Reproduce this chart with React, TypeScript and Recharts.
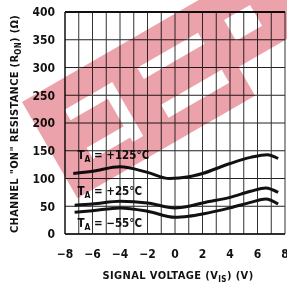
import { LineChart, Line, XAxis, YAxis, CartesianGrid, ReferenceDot, ReferenceLine, Label } from "recharts";

// signal voltage (V) vs channel on-resistance (ohm)
const curve125 = [
  { v: -7.4, r: 109 }, { v: -6, r: 113 }, { v: -4, r: 121 }, { v: -2, r: 111 },
  { v: -0.4, r: 100 }, { v: 1, r: 103 }, { v: 2, r: 109 }, { v: 4, r: 127 },
  { v: 5.5, r: 138 }, { v: 6.7, r: 143 }, { v: 7.5, r: 136 },
];
const curve25 = [
  { v: -7.3, r: 52 }, { v: -6, r: 54 }, { v: -4, r: 59 }, { v: -2, r: 56 },
  { v: 0, r: 47 }, { v: 1, r: 50 }, { v: 2, r: 56 }, { v: 4, r: 66 },
  { v: 5.5, r: 77 }, { v: 6.6, r: 83 }, { v: 7.5, r: 75 },
];
const curveM55 = [
  { v: -7.3, r: 39 }, { v: -6, r: 42 }, { v: -4, r: 47 }, { v: -2, r: 41 },
  { v: 0, r: 30 }, { v: 1, r: 32 }, { v: 2, r: 36 }, { v: 4, r: 47 },
  { v: 5.5, r: 57 }, { v: 6.6, r: 63 }, { v: 7.5, r: 54 },
];

const curves = [curve125, curve25, curveM55];

const xTicks = [-8, -6, -4, -2, 0, 2, 4, 6, 8];
const xGrid = [-7, -6, -5, -4, -3, -2, -1, 0, 1, 2, 3, 4, 5, 6, 7, 8];
const yTicks = [0, 50, 100, 150, 200, 250, 300, 350, 400];

// temperature labels: text, left x (V), baseline y (ohm)
const tempLabels = [
  { temp: "= +125°C", v: -7.1, r: 136 },
  { temp: "= +25°C", v: -7.1, r: 70 },
  { temp: "= \u221255°C", v: -7.1, r: 12 },
];

const FONT = "'DejaVu Sans Condensed', 'Liberation Sans', sans-serif";
const INK = "#111";

const TempLabel = (props: any) => {
  const { viewBox, temp } = props;
  return (
    <text x={viewBox.x} y={viewBox.y} fontFamily={FONT} fontWeight="bold" fontSize={11.5} fill={INK}>
      <tspan>T</tspan>
      <tspan fontSize={8.5} dy={3}>A</tspan>
      <tspan dy={-3}> {temp}</tspan>
    </text>
  );
};

const XTitle = (props: any) => {
  const { viewBox } = props;
  const cx = viewBox.x + viewBox.width / 2 + 3;
  return (
    <text x={cx} y={279} textAnchor="middle" fontFamily={FONT} fontWeight="bold" fontSize={11} fill={INK} letterSpacing={0.4}>
      <tspan>SIGNAL VOLTAGE (V</tspan>
      <tspan fontSize={8} dy={3}>IS</tspan>
      <tspan dy={-3}>) (V)</tspan>
    </text>
  );
};

const YTitle = (props: any) => {
  const { viewBox } = props;
  const cy = viewBox.y + viewBox.height / 2 + 1;
  return (
    <text x={0} y={0} transform={`translate(18,${cy}) rotate(-90)`} textAnchor="middle" fontFamily={FONT} fontWeight="bold" fontSize={11} fill={INK} letterSpacing={0.3}>
      <tspan>CHANNEL "ON" RESISTANCE (R</tspan>
      <tspan fontSize={8} dy={3}>ON</tspan>
      <tspan dy={-3}>) (Ω)</tspan>
    </text>
  );
};

const Watermark = () => {
  // diagonal pink logo band, multiplied over the chart
  const cutouts = [
    { u: 33, v: 28, w: 55, h: 12 },
    { u: 76, v: 28, w: 12, h: 62 },
    { u: 33, v: 72, w: 52, h: 13 },
    { u: 117, v: 28, w: 70, h: 13 },
    { u: 119, v: 72, w: 70, h: 15 },
    { u: 216, v: 30, w: 30, h: 24 },
    { u: 205, v: 78, w: 60, h: 40 },
  ];
  return (
    <svg
      width={287}
      height={285}
      style={{ position: "absolute", left: 0, top: 0, pointerEvents: "none", mixBlendMode: "multiply" }}
    >
      <g transform="translate(22,102) rotate(-30)">
        <rect x={0} y={0} width={420} height={111} fill="#eca2aa" />
        {cutouts.map((b, i) => (
          <rect key={i} x={b.u} y={b.v} width={b.w} height={b.h} fill="#fff" />
        ))}
      </g>
    </svg>
  );
};

export default function App() {
  return (
    <div style={{ position: "absolute", left: 0, top: 0, width: 287, height: 285, background: "#fff" }}>
      <LineChart width={287} height={285} margin={{ top: 12, right: 2, left: 0, bottom: 0 }}>
        <CartesianGrid stroke="#222" strokeWidth={1} vertical={false} />
        {xGrid.map((x) => (
          <ReferenceLine key={x} x={x} stroke="#333" strokeWidth={1} />
        ))}
        <ReferenceLine y={400} stroke={INK} strokeWidth={2} />
        <XAxis
          type="number"
          dataKey="v"
          domain={[-8, 8]}
          ticks={xTicks}
          interval={0}
          tickFormatter={(t: number) => (t < 0 ? "\u2212" + Math.abs(t) : String(t))}
          tickLine={false}
          axisLine={{ stroke: INK, strokeWidth: 1.5 }}
          height={51}
          tick={{ fontSize: 12, fontWeight: "bold", fill: INK, fontFamily: FONT }}
          tickMargin={9}
        >
          <Label content={<XTitle />} />
        </XAxis>
        <YAxis
          type="number"
          dataKey="r"
          domain={[0, 400]}
          ticks={yTicks}
          interval={0}
          tickLine={false}
          axisLine={{ stroke: INK, strokeWidth: 1.5 }}
          width={65}
          tick={{ fontSize: 12, fontWeight: "bold", fill: INK, fontFamily: FONT }}
          tickMargin={4}
        >
          <Label content={<YTitle />} />
        </YAxis>
        {curves.map((c, i) => (
          <Line
            key={i}
            data={c}
            dataKey="r"
            type="monotone"
            stroke={INK}
            strokeWidth={3}
            dot={false}
            isAnimationActive={false}
          />
        ))}
        {tempLabels.map((t, i) => (
          <ReferenceDot key={i} x={t.v} y={t.r} r={0} fill="none" stroke="none" ifOverflow="visible"
            label={<TempLabel temp={t.temp} />} />
        ))}
      </LineChart>
      <Watermark />
    </div>
  );
}
